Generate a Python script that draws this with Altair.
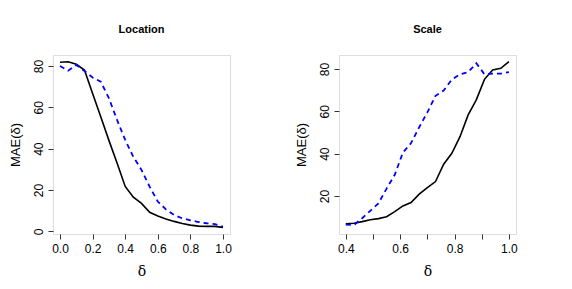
import altair as alt
import pandas as pd

# Location panel
loc_delta = [0.0, 0.05, 0.10, 0.15, 0.20, 0.25, 0.30, 0.35, 0.40, 0.45, 0.50,
             0.55, 0.60, 0.65, 0.70, 0.75, 0.80, 0.85, 0.90, 0.95, 1.0]
loc_solid = [81.8, 82.0, 80.8, 78.0, 66.7, 55.4, 44.0, 33.0, 21.7, 16.5, 13.5,
             9.2, 7.4, 6.0, 4.8, 3.8, 3.0, 2.5, 2.4, 2.4, 1.9]
loc_dashed = [80.0, 77.7, 80.5, 77.6, 74.4, 72.4, 64.4, 53.9, 44.2, 36.0, 29.7,
              21.6, 14.4, 10.6, 7.9, 6.3, 5.3, 4.5, 3.9, 3.5, 2.3]

# Scale panel
sc_delta = [0.40, 0.43, 0.46, 0.49, 0.52, 0.55, 0.58, 0.61, 0.64, 0.67, 0.70,
            0.73, 0.76, 0.79, 0.82, 0.85, 0.88, 0.91, 0.94, 0.97, 1.00]
sc_solid = [6.9, 7.1, 7.9, 8.8, 9.3, 10.2, 12.6, 15.3, 16.9, 20.9, 23.9,
            26.8, 35.0, 40.2, 48.0, 58.3, 65.4, 75.1, 79.5, 80.3, 83.5]
sc_dashed = [6.5, 6.3, 9.5, 13.0, 16.5, 23.5, 30.0, 40.5, 45.0, 52.5, 59.5,
             67.3, 69.8, 75.0, 77.5, 78.5, 82.7, 77.5, 77.8, 77.8, 78.5]

FONT = "Liberation Sans"


def panel(title, xs, solid, dashed, xdom, ydom, xticks, yticks, xlabels_shown):
    df = pd.DataFrame({"delta": xs, "solid": solid, "dashed": dashed})
    label_expr = " || ".join(f"abs(datum.value - {v}) < 1e-6" for v in xlabels_shown)
    x = alt.X("delta:Q",
              scale=alt.Scale(domain=xdom, nice=False, zero=False),
              axis=alt.Axis(values=xticks, title="δ", format=".1f",
                            labelExpr=f"({label_expr}) ? format(datum.value, '.1f') : ''",
                            grid=False, domain=False, tickColor="#333", tickSize=5,
                            labelFont=FONT, labelFontSize=12, labelColor="black",
                            labelPadding=4, titleFont="DejaVu Serif",
                            titleFontSize=14, titleFontWeight="normal",
                            titlePadding=10, titleColor="black", labelFlush=False))
    yax = alt.Axis(values=yticks, title="MAE(δ)", grid=False, domain=False,
                   tickColor="#333", tickSize=5, labelAngle=-90,
                   labelAlign="center", labelBaseline="bottom",
                   labelFont=FONT, labelFontSize=12, labelColor="black",
                   labelPadding=3, titleFont=FONT, titleFontSize=13,
                   titleFontWeight="normal", titleColor="black", titlePadding=10,
                   labelFlush=False)
    yscale = alt.Scale(domain=ydom, nice=False, zero=False)
    base = alt.Chart(df)
    s = base.mark_line(color="black", strokeWidth=1.6, clip=True).encode(
        x=x, y=alt.Y("solid:Q", scale=yscale, axis=yax))
    d = base.mark_line(color="#0000FF", strokeWidth=1.8, strokeDash=[5, 4],
                       clip=True).encode(
        x=x, y=alt.Y("dashed:Q", scale=yscale, axis=yax))
    return alt.layer(s, d).properties(
        width=177, height=179,
        title=alt.TitleParams(title, font=FONT, fontSize=11, fontWeight="bold",
                              anchor="middle", offset=20, color="black"))


left = panel("Location", loc_delta, loc_solid, loc_dashed,
             [-0.043, 1.043], [-1.3, 85.3],
             [0.0, 0.2, 0.4, 0.6, 0.8, 1.0], [0, 20, 40, 60, 80],
             [0.0, 0.2, 0.4, 0.6, 0.8, 1.0])
right = panel("Scale", sc_delta, sc_solid, sc_dashed,
              [0.375, 1.026], [2.05, 86.6],
              [0.4, 0.5, 0.6, 0.7, 0.8, 0.9, 1.0], [20, 40, 60, 80],
              [0.4, 0.6, 0.8, 1.0])

chart = alt.hconcat(left, right, spacing=62).properties(
    padding={"top": 15, "left": 0, "right": 5, "bottom": 5}
).configure_view(stroke="#333", strokeWidth=1).configure(background="white")

chart.save("out.html", embed_options={"renderer": "svg", "actions": False})
